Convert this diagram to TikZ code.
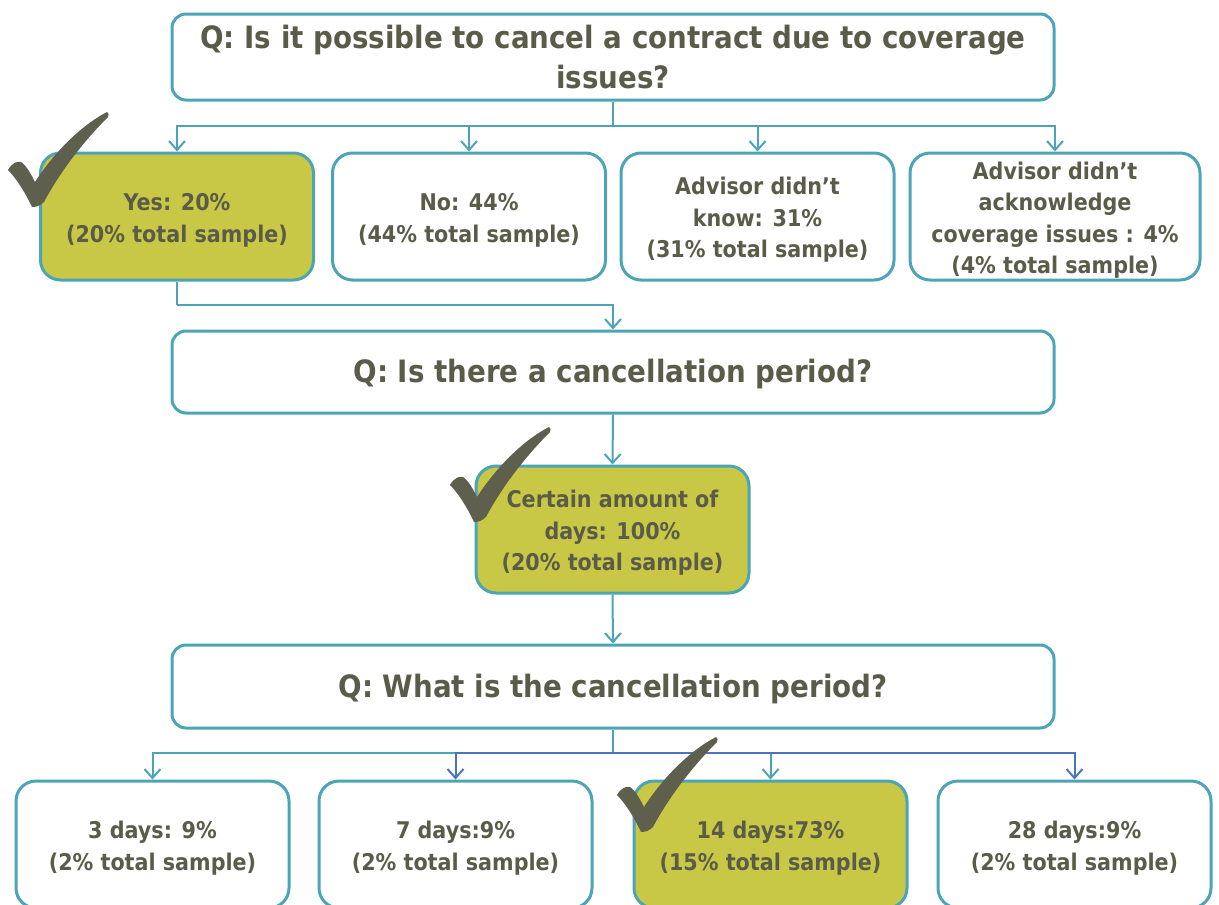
\documentclass[tikz,border=0pt]{standalone}
\usepackage{fontspec}
\setmainfont{DejaVu Sans}[FakeStretch=0.9]
\usetikzlibrary{arrows.meta}
\definecolor{tealc}{HTML}{4BA5B6}
\definecolor{fillc}{HTML}{C8C846}
\definecolor{txtc}{HTML}{5B5B49}
\definecolor{bluec}{HTML}{4A75BE}
\definecolor{checkc}{HTML}{5F5F4D}
\newcommand{\lowtext}[1]{\raisebox{-3.5pt}[\height][\depth]{\begin{tabular}{@{}c@{}}#1\end{tabular}}}
\tikzset{
  qbox/.style={draw=tealc, line width=3pt, rounded corners=14pt, fill=white, minimum width=882pt, align=center, text=txtc, font=\bfseries\fontsize{30.8}{40}\selectfont, inner sep=0pt},
  qlow/.style={execute at begin node={\rule{0pt}{28pt}}},
  abox/.style={draw=tealc, line width=3pt, rounded corners=20pt, fill=white, minimum width=273pt, minimum height=127pt, text=txtc, font=\bfseries\fontsize{23}{31.5}\selectfont, inner sep=0pt},
  hbox/.style={abox, fill=fillc},
  conn/.style={draw=tealc, line width=2pt},
  arr/.style={conn, -{Straight Barb[length=9pt,width=16pt,line width=2pt]}},
  barr/.style={arr, draw=bluec},
  pics/checkmark/.style={code={
    \fill[checkc] (24,95) .. controls (17,80) and (8,66) .. (0,58)
      .. controls (4,51) and (9,49) .. (13,50)
      .. controls (18,53) and (23,62) .. (27,70)
      .. controls (45,42) and (72,14) .. (99,0)
      .. controls (101,1) and (101,3) .. (100,5)
      .. controls (75,30) and (52,60) .. (36,90)
      .. controls (32,94) and (28,95) .. (24,95) -- cycle;
  }}
}
\begin{document}
\begin{tikzpicture}[x=1pt,y=-1pt]
\useasboundingbox (0,0) rectangle (1219,905);
\clip (0,0) rectangle (1219,905);
% question boxes
\node[qbox, minimum height=86pt] (q1) at (613,57) {Q: Is it possible to cancel a contract due to coverage\\issues?};
\node[qbox, qlow, minimum height=82pt] (q2) at (613,372) {Q: Is there a cancellation period?};
\node[qbox, qlow, minimum height=83pt] (q3) at (613,686.5) {Q: What is the cancellation period?};
% row 1
\node[hbox] (y1) at (177,216.5) {\lowtext{Yes: 20\%\\(20\% total sample)}};
\node[abox] (n1) at (469,216.5) {\lowtext{No: 44\%\\(44\% total sample)}};
\node[abox] (a1) at (757.5,216.5) {\lowtext{Advisor didn’t\\know: 31\%\\(31\% total sample)}};
\node[abox, minimum width=290pt] (a2) at (1055,216.5) {\lowtext{Advisor didn’t\\acknowledge\\coverage issues : 4\%\\(4\% total sample)}};
% middle
\node[hbox] (c) at (612.5,529.5) {\lowtext{Certain amount of\\days: 100\%\\(20\% total sample)}};
% row 3
\node[abox] (d3) at (152.5,844.5) {\lowtext{3 days: 9\%\\(2\% total sample)}};
\node[abox] (d7) at (455.5,844.5) {\lowtext{7 days:9\%\\(2\% total sample)}};
\node[hbox] (d14) at (770.5,844.5) {\lowtext{14 days:73\%\\(15\% total sample)}};
\node[abox] (d28) at (1074.5,844.5) {\lowtext{28 days:9\%\\(2\% total sample)}};
% connectors row 1
\coordinate (b1) at (613,126);
\draw[conn] (q1.south) -- (b1);
\draw[arr] (b1) -| (y1.north);
\draw[arr] (b1) -| (n1.north);
\draw[arr] (b1) -| (a1.north);
\draw[arr] (b1) -| (a2.north);
\coordinate (b2) at (177,305);
\draw[conn] (y1.south) -- (b2);
\draw[arr] (b2) -| (q2.north);
\draw[arr] (q2.south) -- (c.north);
\draw[arr] (c.south) -- (q3.north);
% connectors row 3
\coordinate (b3) at (613,753);
\draw[conn] (q3.south) -- (b3);
\draw[arr] (b3) -| (d3.north);
\draw[barr] (b3) -| (d7.north);
\draw[arr] (b3) -| (d14.north);
\draw[barr] (b3) -| (d28.north);
% checkmarks
\pic at (8,112) {checkmark};
\pic at (450,427) {checkmark};
\pic at (617,737) {checkmark};
\end{tikzpicture}
\end{document}
